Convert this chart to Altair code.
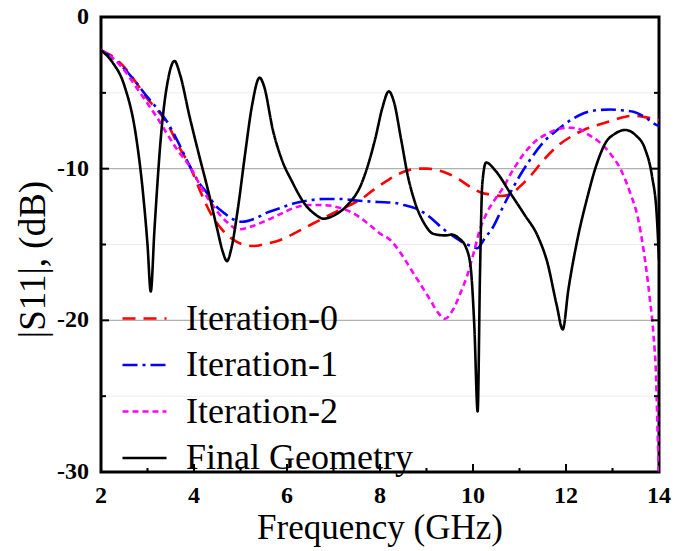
import altair as alt
import pandas as pd

# ---------------- data ----------------
series_names = ["Iteration-0", "Iteration-1", "Iteration-2", "Final Geometry"]
series_colors = ["#ff0000", "#0000ff", "#ff00ff", "#000000"]
series_dashes = [[13, 8], [15, 5, 3, 5], [6, 4], [1, 0]]

it0_f = [2.0, 2.25, 2.5, 2.75, 3.0, 3.2, 3.42, 3.65, 3.92, 4.15, 4.35, 4.6, 4.85, 5.05, 5.28,
         5.55, 5.86, 6.2, 6.57, 6.95, 7.29, 7.6, 7.86, 8.2, 8.51, 8.8, 9.01, 9.25, 9.44, 9.7,
         9.94, 10.2, 10.37, 10.6, 10.8, 11.0, 11.23, 11.5, 11.8, 12.1, 12.38, 12.7, 13.02,
         13.25, 13.45, 13.7, 14.0]
it0_db = [-2.2, -2.6, -3.3, -4.3, -5.4, -6.1, -7.0, -8.4, -9.9, -11.6, -12.9, -14.0, -14.7,
          -15.0, -15.1, -14.95, -14.7, -14.2, -13.6, -13.0, -12.5, -12.0, -11.4, -10.7, -10.2,
          -10.0, -10.0, -10.1, -10.3, -10.7, -11.2, -11.6, -11.7, -11.8, -11.7, -11.2, -10.5,
          -9.5, -8.55, -7.9, -7.45, -7.1, -6.8, -6.6, -6.5, -6.6, -6.8]

it1_f = [2.0, 2.25, 2.5, 2.75, 2.99, 3.2, 3.42, 3.65, 3.92, 4.1, 4.28, 4.45, 4.64, 4.85, 5.03,
         5.3, 5.57, 5.85, 6.14, 6.45, 6.79, 7.15, 7.5, 7.97, 8.3, 8.51, 8.75, 8.94, 9.15, 9.37,
         9.6, 9.8, 10.0, 10.09, 10.25, 10.44, 10.6, 10.8, 11.0, 11.23, 11.5, 11.81, 12.1,
         12.38, 12.65, 12.95, 13.2, 13.45, 13.7, 13.88, 14.0]
it1_db = [-2.2, -2.7, -3.4, -4.3, -5.25, -6.0, -6.9, -8.2, -9.9, -10.9, -11.6, -12.4, -12.9,
          -13.35, -13.5, -13.3, -12.9, -12.6, -12.3, -12.1, -12.0, -12.0, -12.1, -12.2,
          -12.25, -12.4, -12.6, -12.9, -13.4, -14.0, -14.5, -14.9, -15.15, -15.25, -14.6,
          -13.8, -12.8, -11.6, -10.5, -9.4, -8.3, -7.45, -6.8, -6.35, -6.15, -6.1, -6.15,
          -6.25, -6.6, -7.0, -7.2]

it2_f = [2.0, 2.25, 2.5, 2.75, 3.0, 3.2, 3.42, 3.65, 3.92, 4.15, 4.42, 4.7, 4.96, 5.25, 5.57,
         5.85, 6.14, 6.45, 6.72, 6.95, 7.15, 7.4, 7.65, 7.85, 8.01, 8.22, 8.45, 8.72, 9.08,
         9.25, 9.40, 9.55, 9.73, 9.88, 10.01, 10.15, 10.30, 10.5, 10.66, 10.8, 10.95, 11.15,
         11.38, 11.6, 11.88, 12.1, 12.3, 12.45, 12.7, 12.95, 13.2, 13.38, 13.55, 13.67, 13.8,
         13.88, 13.94, 13.97, 14.0]
it2_db = [-2.2, -2.7, -3.5, -4.6, -5.7, -6.6, -7.7, -8.8, -9.9, -11.2, -12.5, -13.5, -14.0,
          -13.8, -13.4, -13.0, -12.6, -12.4, -12.4, -12.45, -12.6, -12.9, -13.4, -13.9, -14.3,
          -14.7, -15.6, -16.9, -18.65, -19.5, -19.9, -19.4, -18.2, -17.0, -15.6, -14.0, -12.9,
          -11.9, -11.2, -10.4, -9.65, -8.8, -8.1, -7.7, -7.35, -7.3, -7.4, -7.7, -8.2, -9.0,
          -10.2, -11.6, -13.3, -15.4, -18.5, -20.9, -24.0, -27.4, -30.0]

fin_f = [2.0, 2.25, 2.5, 2.75, 2.9, 3.0, 3.07, 3.15, 3.3, 3.45, 3.58, 3.7, 3.9, 4.1, 4.3, 4.5,
         4.62, 4.71, 4.8, 4.95, 5.1, 5.25, 5.41, 5.5, 5.7, 5.9, 6.1, 6.4, 6.6, 6.79, 7.0, 7.3,
         7.6, 7.9, 8.05, 8.19, 8.3, 8.45, 8.6, 8.75, 8.95, 9.15, 9.4, 9.55, 9.7, 9.85, 9.95,
         10.03, 10.1, 10.15, 10.2, 10.28, 10.5, 10.8, 11.1, 11.4, 11.6, 11.8, 11.93, 12.05,
         12.25, 12.45, 12.65, 12.85, 13.05, 13.28, 13.5, 13.7, 13.85, 13.95, 14.0]
fin_db = [-2.2, -3.0, -4.5, -7.8, -11.5, -15.0, -18.1, -14.0, -7.5, -4.0, -2.9, -3.8, -6.5,
          -9.0, -11.4, -14.0, -15.5, -16.1, -15.3, -12.5, -9.0, -5.8, -4.0, -4.5, -7.5, -9.5,
          -10.8, -12.4, -13.0, -13.3, -13.1, -12.4, -11.0, -8.0, -6.0, -4.9, -5.6, -8.0, -10.5,
          -12.2, -13.6, -14.3, -14.4, -14.35, -14.6, -15.2, -16.5, -20.5, -26.0, -17.0, -11.0,
          -9.6, -10.2, -11.6, -13.0, -14.5, -16.2, -19.0, -20.6, -18.0, -14.6, -12.0, -9.8,
          -8.3, -7.7, -7.45, -7.8, -8.7, -10.5, -13.0, -16.0]

x_tick_labels = [2, 4, 6, 8, 10, 12, 14]
x_major_inner = [4, 6, 8, 10, 12]
x_minor_inner = [3, 5, 7, 9, 11, 13]
y_tick_labels = [0, -10, -20, -30]
y_major_inner = [-10, -20]
y_minor_inner = [-5, -15, -25]
x_title = "Frequency (GHz)"
y_title = "|S11|, (dB)"

# ---------------- build table ----------------
rows = []
for name, fs, dbs in [("Iteration-0", it0_f, it0_db), ("Iteration-1", it1_f, it1_db),
                      ("Iteration-2", it2_f, it2_db), ("Final Geometry", fin_f, fin_db)]:
    for i, (f, d) in enumerate(zip(fs, dbs)):
        rows.append({"series": name, "f": f, "db": d, "idx": i})
df = pd.DataFrame(rows)

W, H = 558, 455
SERIF = "Liberation Serif, Times New Roman, Times, serif"

xs = alt.Scale(domain=[2, 14], nice=False, zero=False)
ys = alt.Scale(domain=[-30, 0], nice=False, zero=False)

legend_kw = dict(title=None, orient="none", legendX=20, legendY=278,
                 labelFont=SERIF, labelFontSize=36, labelColor="black",
                 symbolType="stroke", symbolSize=1936, symbolStrokeWidth=2.6,
                 labelOffset=18, rowPadding=4.5, labelLimit=400)

lines = alt.Chart(df).mark_line(strokeWidth=2.6, clip=True, interpolate="monotone").encode(
    x=alt.X("f:Q", scale=xs, axis=None),
    y=alt.Y("db:Q", scale=ys, axis=None),
    color=alt.Color("series:N",
                    scale=alt.Scale(domain=series_names, range=series_colors),
                    legend=alt.Legend(**legend_kw)),
    strokeDash=alt.StrokeDash("series:N",
                              scale=alt.Scale(domain=series_names, range=series_dashes),
                              legend=alt.Legend(**legend_kw)),
    order="idx:Q",
    detail="series:N",
)

# grid lines
grid_major = alt.Chart(pd.DataFrame({"y": y_major_inner})).mark_rule(
    color="#b0b0b0", strokeWidth=1.2).encode(
    y=alt.Y("y:Q", scale=ys, axis=None), x=alt.value(0), x2=alt.value(W))
grid_minor = alt.Chart(pd.DataFrame({"y": y_minor_inner})).mark_rule(
    color="#ececec", strokeWidth=1).encode(
    y=alt.Y("y:Q", scale=ys, axis=None), x=alt.value(0), x2=alt.value(W))

# inward ticks
tb_major = alt.Chart(pd.DataFrame({"x": x_major_inner})).mark_rule(
    color="black", strokeWidth=2).encode(
    x=alt.X("x:Q", scale=xs, axis=None), y=alt.value(H), y2=alt.value(H - 8))
tb_minor = alt.Chart(pd.DataFrame({"x": x_minor_inner})).mark_rule(
    color="black", strokeWidth=2).encode(
    x=alt.X("x:Q", scale=xs, axis=None), y=alt.value(H), y2=alt.value(H - 4))
tl_major = alt.Chart(pd.DataFrame({"y": y_major_inner})).mark_rule(
    color="black", strokeWidth=2).encode(
    y=alt.Y("y:Q", scale=ys, axis=None), x=alt.value(0), x2=alt.value(8))
tl_minor = alt.Chart(pd.DataFrame({"y": y_minor_inner})).mark_rule(
    color="black", strokeWidth=2).encode(
    y=alt.Y("y:Q", scale=ys, axis=None), x=alt.value(0), x2=alt.value(5))
tr_major = alt.Chart(pd.DataFrame({"y": y_major_inner})).mark_rule(
    color="black", strokeWidth=2).encode(
    y=alt.Y("y:Q", scale=ys, axis=None), x=alt.value(W), x2=alt.value(W - 8))
tr_minor = alt.Chart(pd.DataFrame({"y": y_minor_inner})).mark_rule(
    color="black", strokeWidth=2).encode(
    y=alt.Y("y:Q", scale=ys, axis=None), x=alt.value(W), x2=alt.value(W - 5))

# tick labels and titles as text marks
xlab_df = pd.DataFrame({"v": x_tick_labels, "t": [str(v) for v in x_tick_labels]})
ylab_df = pd.DataFrame({"v": y_tick_labels, "t": [str(v) for v in y_tick_labels]})

x_labels = alt.Chart(xlab_df).mark_text(
    font=SERIF, fontSize=24, fontWeight="bold", color="black",
    align="center", baseline="middle").encode(
    x=alt.X("v:Q", scale=xs, axis=None), y=alt.value(H + 24), text="t:N")
y_labels = alt.Chart(ylab_df).mark_text(
    font=SERIF, fontSize=24, fontWeight="bold", color="black",
    align="right", baseline="middle").encode(
    y=alt.Y("v:Q", scale=ys, axis=None), x=alt.value(-12), text="t:N")

x_title_mark = alt.Chart(pd.DataFrame({"t": [x_title]})).mark_text(
    font=SERIF, fontSize=35, color="black", align="center", baseline="alphabetic").encode(
    x=alt.value(W / 2), y=alt.value(H + 67), text="t:N")
y_title_mark = alt.Chart(pd.DataFrame({"t": [y_title]})).mark_text(
    font=SERIF, fontSize=37, color="black", align="center", baseline="alphabetic",
    angle=270).encode(
    x=alt.value(-56), y=alt.value(H / 2 + 15), text="t:N")

chart = alt.layer(grid_minor, grid_major, lines, tb_major, tb_minor, tl_major, tl_minor,
                  tr_major, tr_minor, x_labels, y_labels, x_title_mark,
                  y_title_mark).properties(
    width=W, height=H,
    autosize=alt.AutoSizeParams(type="none"),
    padding={"left": 101, "top": 17, "right": 15, "bottom": 79},
    background="white",
).configure(font=SERIF).configure_view(stroke="black", strokeWidth=3)

chart.save("out.html", embed_options={"renderer": "svg", "actions": False})
